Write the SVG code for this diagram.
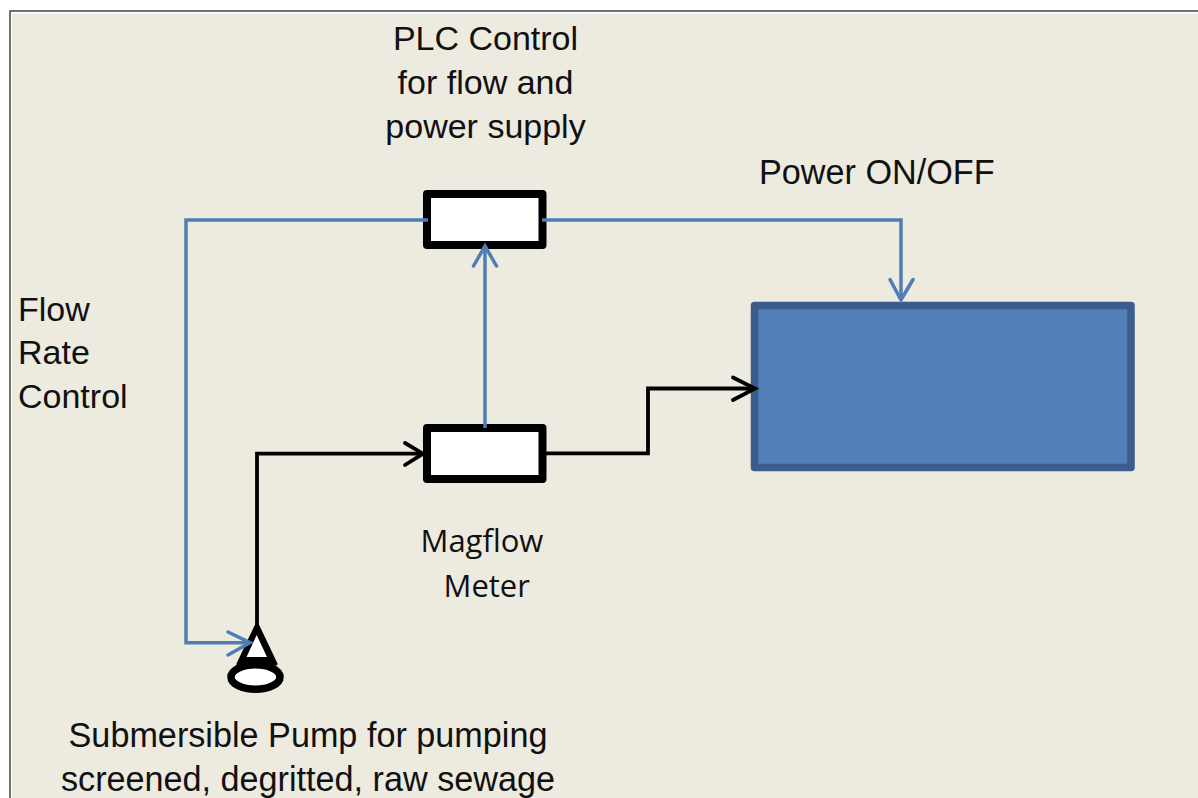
<svg xmlns="http://www.w3.org/2000/svg" width="1198" height="798" viewBox="0 0 1198 798">
<defs>
<style>
.t{font-family:"Liberation Sans",Arial,sans-serif;font-size:34.200px;fill:#111}
.s{font-size:34px}
.c{font-family:"Open Sans","Noto Sans",sans-serif;font-size:31px;fill:#111}
.b{fill:none;stroke:#4f7db5;stroke-width:3.500}
.k{fill:none;stroke:#000;stroke-width:3.800}
.h{stroke-linecap:round;stroke-linejoin:miter}
.box{fill:#fff;stroke:#000;stroke-width:8;stroke-linejoin:round}
</style>
</defs>
<rect width="1198" height="798" fill="#fff"/>
<rect x="12" y="13.500" width="1186" height="784.500" fill="#edeadf"/>
<path d="M10 798V11H1198" fill="none" stroke="#444" stroke-width="1.500"/>
<g id="plc"><rect class="box" x="427" y="194" width="115.500" height="51"/></g>
<g id="meter"><rect class="box" x="427" y="428" width="115.500" height="51"/></g>
<g id="tank"><rect x="754.500" y="305.500" width="376.500" height="162" fill="#527fb6" stroke="#3b5c8c" stroke-width="7.500" stroke-linejoin="round"/></g>
<g id="pump">
<path d="M257 624L238 664H276Z" fill="#000" stroke="#000" stroke-width="3" stroke-linejoin="round"/>
<path d="M256.700 635L246.500 657H267Z" fill="#fff"/>
<ellipse cx="255.500" cy="677" rx="24.500" ry="12.300" fill="#fff" stroke="#000" stroke-width="7.500"/>
</g>
<g id="connectors">
<path class="b" d="M428 220H186V642.700H248"/>
<path class="b h" d="M228 632L250 642.700L228 655"/>
<path class="b" d="M542 220H901V298"/>
<path class="b h" d="M890 279.500L901 300L913 279.500"/>
<path class="b" d="M485 428V248"/>
<path class="b h" d="M473.500 266L485 246L496.500 266"/>
<path class="k" d="M257 625V453.700H421"/>
<path class="k h" d="M405 443L423 453.700L405 465"/>
<path class="k" d="M546 453.300H648V388.500H753"/>
<path class="k h" d="M733 377.500L755 388.500L733 400"/>
</g>
<g id="labels">
<text class="t s" x="485.500" y="50" text-anchor="middle">PLC Control</text>
<text class="t s" x="485.500" y="94" text-anchor="middle">for flow and</text>
<text class="t s" x="485.500" y="138" text-anchor="middle">power supply</text>
<text class="t" x="759" y="184">Power ON/OFF</text>
<text class="t s" x="18" y="321">Flow</text>
<text class="t s" x="18" y="364">Rate</text>
<text class="t s" x="18" y="408">Control</text>
<text class="c" x="420.500" y="552">Magflow</text>
<text class="c" x="443.500" y="597">Meter</text>
<text class="t" x="308" y="747" text-anchor="middle">Submersible Pump for pumping</text>
<text class="t" x="308" y="791" text-anchor="middle">screened, degritted, raw sewage</text>
</g>
</svg>
